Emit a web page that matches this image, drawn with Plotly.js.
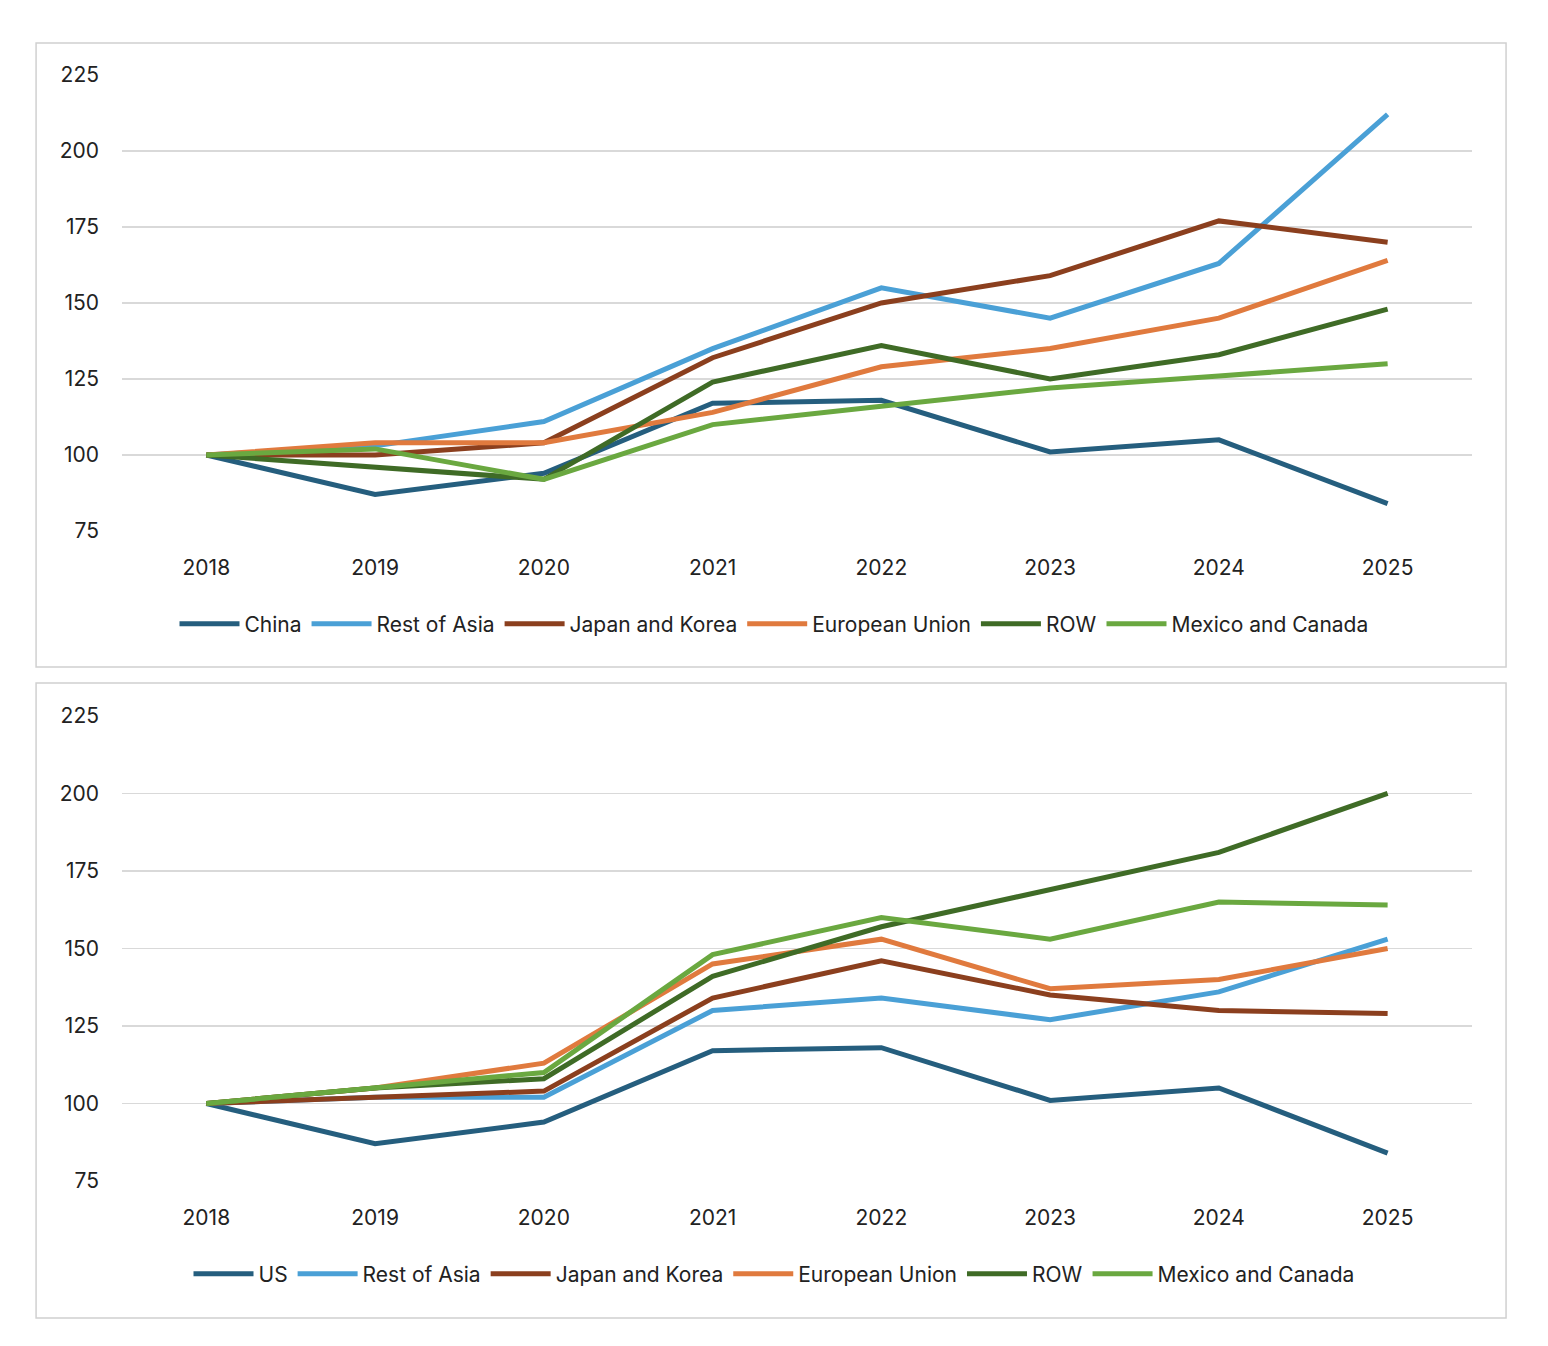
<!DOCTYPE html>
<html><head><meta charset="utf-8">
<script src="https://cdn.plot.ly/plotly-3.0.1.min.js"></script>
<style>body{margin:0;background:#fff}</style>
</head><body>
<div id="chart" style="width:1548px;height:1346px"></div>
<script>
const years = ['2018','2019','2020','2021','2022','2023','2024','2025'];
// top panel
const chinaTop = [100, 87, 94, 117, 118, 101, 105, 84];
const restAsiaTop = [100, 103, 111, 135, 155, 145, 163, 212];
const japanKoreaTop = [100, 100, 104, 132, 150, 159, 177, 170];
const euTop = [100, 104, 104, 114, 129, 135, 145, 164];
const rowTop = [100, 96, 92, 124, 136, 125, 133, 148];
const mexCanTop = [100, 102, 92, 110, 116, 122, 126, 130];
// bottom panel
const usBot = [100, 87, 94, 117, 118, 101, 105, 84];
const restAsiaBot = [100, 102, 102, 130, 134, 127, 136, 153];
const japanKoreaBot = [100, 102, 104, 134, 146, 135, 130, 129];
const euBot = [100, 105, 113, 145, 153, 137, 140, 150];
const rowBot = [100, 105, 108, 141, 157, 169, 181, 200];
const mexCanBot = [100, 105, 110, 148, 160, 153, 165, 164];

const colors = ['#255e7e', '#4aa0d6', '#8b3f1e', '#e07a3e', '#3f6b26', '#6aa840'];

function series(name, y, c, ax, leg) {
    return {x: years, y: y, name: name, mode: 'lines', type: 'scatter',
        line: {color: c, width: 5}, xaxis: ax[0], yaxis: ax[1], legend: leg};
}
const data = [
    series('China', chinaTop, colors[0], ['x','y'], 'legend'),
    series('Rest of Asia', restAsiaTop, colors[1], ['x','y'], 'legend'),
    series('Japan and Korea', japanKoreaTop, colors[2], ['x','y'], 'legend'),
    series('European Union', euTop, colors[3], ['x','y'], 'legend'),
    series('ROW', rowTop, colors[4], ['x','y'], 'legend'),
    series('Mexico and Canada', mexCanTop, colors[5], ['x','y'], 'legend'),
    series('US', usBot, colors[0], ['x2','y2'], 'legend2'),
    series('Rest of Asia', restAsiaBot, colors[1], ['x2','y2'], 'legend2'),
    series('Japan and Korea', japanKoreaBot, colors[2], ['x2','y2'], 'legend2'),
    series('European Union', euBot, colors[3], ['x2','y2'], 'legend2'),
    series('ROW', rowBot, colors[4], ['x2','y2'], 'legend2'),
    series('Mexico and Canada', mexCanBot, colors[5], ['x2','y2'], 'legend2'),
];
const font = {family: 'Inter, "Noto Sans", sans-serif', size: 21, color: '#222'};
const xa = (anchor) => ({domain: [0.0788, 0.9509], anchor: anchor, type: 'category',
    range: [-0.5, 7.5], showgrid: false, zeroline: false, ticks: '', ticklen: 0, tickfont: font,
    showline: false, ticklabelstandoff: 22});
const ya = (dom, anchor) => ({domain: dom, anchor: anchor, range: [75, 225], dtick: 25,
    gridcolor: '#d9d9d9', gridwidth: 1.5, zeroline: false, tickfont: font, ticklabelstandoff: 22});
const box = (y0, y1) => ({type: 'rect', xref: 'paper', yref: 'paper', x0: 0.0233, x1: 0.9729,
    y0: y0, y1: y1, line: {color: '#d0d0d0', width: 1.5}});
const leg = (y) => ({orientation: 'h', x: 0.5, xanchor: 'center', y: y, yanchor: 'middle',
    font: font, itemwidth: 60, tracegroupgap: 0});
const layout = {
    width: 1548, height: 1346, margin: {l: 0, r: 0, t: 0, b: 0},
    paper_bgcolor: '#fff', plot_bgcolor: '#fff', font: font,
    xaxis: xa('y'), yaxis: ya([0.6055, 0.9443], 'x'),
    xaxis2: xa('y2'), yaxis2: ya([0.1226, 0.4681], 'x2'),
    legend: leg(0.5364),
    legend2: leg(0.0535),
    shapes: [box(0.5045, 0.968), box(0.0208, 0.4926)],
};
Plotly.newPlot('chart', data, layout, {staticPlot: true, displayModeBar: false});
</script>
</body></html>
